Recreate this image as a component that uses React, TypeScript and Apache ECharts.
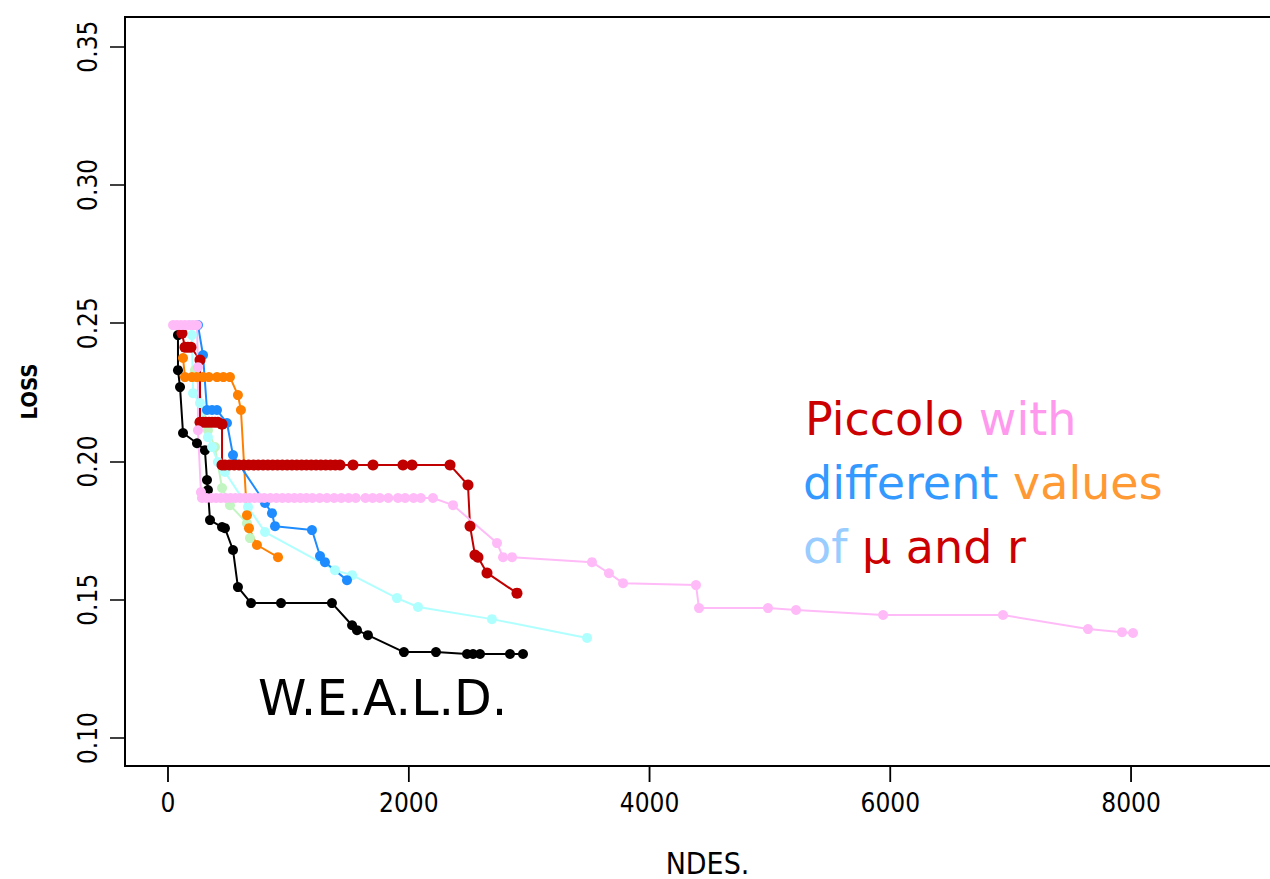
import React, { useEffect, useRef } from "react";
import * as echarts from "echarts";

const xTicks = [0, 2000, 4000, 6000, 8000];
const yTicks = [0.1, 0.15, 0.2, 0.25, 0.3, 0.35];
const xMin = -357;
const xMax = 9320;
const yMin = 0.0899;
const yMax = 0.3607;

// W.E.A.L.D. (black)
const weald = [
  [83, 0.2457], [83, 0.233], [100, 0.2269], [125, 0.2103], [241, 0.2066], [307, 0.2041],
  [324, 0.1933], [332, 0.1897], [349, 0.1788], [449, 0.1763], [473, 0.1759], [540, 0.168],
  [581, 0.1546], [690, 0.1488], [939, 0.1488], [1362, 0.1488], [1529, 0.1408], [1570, 0.139],
  [1661, 0.1372], [1960, 0.1311], [2226, 0.1311], [2484, 0.1304], [2534, 0.1304], [2592, 0.1304],
  [2841, 0.1304], [2949, 0.1304],
];

// Piccolo runs
const piccoloRed = [
  [116, 0.2464], [141, 0.2413], [166, 0.2413], [191, 0.2413], [266, 0.2367], [266, 0.2142],
  [291, 0.2142], [316, 0.2142], [341, 0.2142], [366, 0.2142], [391, 0.2142], [415, 0.2142],
  [449, 0.2135], [449, 0.1987], [473, 0.1987], [510, 0.1987], [550, 0.1987], [590, 0.1987],
  [630, 0.1987], [670, 0.1987], [710, 0.1987], [750, 0.1987], [790, 0.1987], [830, 0.1987],
  [870, 0.1987], [910, 0.1987], [950, 0.1987], [990, 0.1987], [1030, 0.1987], [1070, 0.1987],
  [1110, 0.1987], [1150, 0.1987], [1190, 0.1987], [1230, 0.1987], [1270, 0.1987], [1310, 0.1987],
  [1350, 0.1987], [1390, 0.1987], [1429, 0.1987], [1537, 0.1987], [1703, 0.1987], [1952, 0.1987],
  [2027, 0.1987], [2343, 0.1987], [2492, 0.1915], [2509, 0.1766], [2550, 0.1662], [2575, 0.1654],
  [2650, 0.1597], [2899, 0.1524],
];

const piccoloBlue = [
  [249, 0.2493], [291, 0.2385], [324, 0.2186], [366, 0.2186], [407, 0.2186], [490, 0.2139],
  [540, 0.2023], [806, 0.185], [864, 0.1813], [889, 0.1766], [1196, 0.1752], [1263, 0.1658],
  [1304, 0.1636], [1487, 0.1571],
];

const piccoloOrange = [
  [125, 0.2374], [141, 0.2305], [199, 0.2305], [240, 0.2305], [291, 0.2305], [340, 0.2305],
  [407, 0.2305], [460, 0.2305], [515, 0.2305], [581, 0.224], [606, 0.2186], [656, 0.1806],
  [673, 0.1759], [739, 0.1698], [914, 0.1654],
];

const piccoloPink = [
  [42, 0.2493], [75, 0.2493], [108, 0.2493], [141, 0.2493], [174, 0.2493], [208, 0.2493],
  [241, 0.2493], [249, 0.2341], [249, 0.2113], [274, 0.1889], [282, 0.1868], [320, 0.1868],
  [360, 0.1868], [400, 0.1868], [440, 0.1868], [480, 0.1868], [520, 0.1868], [560, 0.1868],
  [600, 0.1868], [640, 0.1868], [680, 0.1868], [720, 0.1868], [760, 0.1868], [800, 0.1868],
  [850, 0.1868], [900, 0.1868], [950, 0.1868], [1000, 0.1868], [1050, 0.1868], [1100, 0.1868],
  [1150, 0.1868], [1200, 0.1868], [1260, 0.1868], [1320, 0.1868], [1380, 0.1868], [1440, 0.1868],
  [1500, 0.1868], [1560, 0.1868], [1640, 0.1868], [1700, 0.1868], [1760, 0.1868], [1830, 0.1868],
  [1910, 0.1868], [1970, 0.1868], [2040, 0.1868], [2100, 0.1868], [2201, 0.1868], [2368, 0.1842],
  [2733, 0.1705], [2783, 0.1654], [2858, 0.1654], [3522, 0.1636], [3663, 0.1596], [3780, 0.156],
  [4386, 0.1553], [4411, 0.147], [4984, 0.147], [5217, 0.1463], [5940, 0.1445], [6936, 0.1445],
  [7642, 0.1394], [7925, 0.1383], [8016, 0.138],
];

const piccoloCyan = [
  [183, 0.2493], [199, 0.2457], [208, 0.2247], [266, 0.2211], [332, 0.2088], [366, 0.2052],
  [415, 0.1998], [473, 0.1962], [665, 0.1835], [806, 0.1745], [1387, 0.1607], [1529, 0.1589],
  [1902, 0.1506], [2077, 0.1474], [2691, 0.143], [3481, 0.1362],
];

const piccoloGreen = [
  [224, 0.233], [332, 0.2113], [390, 0.2052], [449, 0.1904], [515, 0.1842], [656, 0.1777],
  [681, 0.1723],
];

const tickFont = "'Liberation Sans Narrow', 'DejaVu Sans Condensed', 'Liberation Sans', sans-serif";
const textFont = "'DejaVu Sans', Verdana, sans-serif";

function mk(name: string, data: number[][], color: string, size = 10, width = 2) {
  return {
    name,
    type: "line",
    data,
    symbol: "circle",
    symbolSize: size,
    showSymbol: true,
    lineStyle: { color, width },
    itemStyle: { color },
    z: 2,
  };
}

export default function App() {
  const ref = useRef<HTMLDivElement>(null);
  useEffect(() => {
    if (!ref.current) return;
    const chart = echarts.init(ref.current, null, { renderer: "svg" });
    chart.setOption({
      animation: false,
      backgroundColor: "#ffffff",
      grid: {
        left: 125,
        top: 17,
        width: 1165,
        height: 749,
        outerBoundsMode: "none",
        show: true,
        borderColor: "#000",
        borderWidth: 2,
        backgroundColor: "transparent",
      },
      xAxis: {
        type: "value",
        position: "bottom",
        min: xMin,
        max: xMax,
        name: "NDES.",
        nameLocation: "middle",
        nameGap: 82,
        nameTextStyle: { fontFamily: tickFont, fontSize: 30, color: "#000" },
        axisLine: { show: true, onZero: false, lineStyle: { color: "#000", width: 2 } },
        splitLine: { show: false },
        axisTick: { show: false },
        axisLabel: {
          fontFamily: tickFont,
          fontSize: 26,
          color: "#000",
          margin: 24,
          customValues: xTicks,
          formatter: (v: number) => String(v),
        },
      },
      yAxis: {
        type: "value",
        position: "left",
        min: yMin,
        max: yMax,
        name: "LOSS",
        nameLocation: "middle",
        nameGap: 85,
        nameRotate: 90,
        nameTextStyle: { fontFamily: tickFont, fontSize: 22, color: "#000", fontWeight: "bold" },
        axisLine: { show: true, onZero: false, lineStyle: { color: "#000", width: 2 } },
        splitLine: { show: false },
        axisTick: { show: true, inside: false, length: 15, lineStyle: { color: "#000", width: 1.5 }, customValues: yTicks },
        axisLabel: {
          fontFamily: tickFont,
          fontSize: 26,
          color: "#000",
          rotate: 90,
          margin: 24,
          customValues: yTicks,
          formatter: (v: number) => v.toFixed(2),
        },
      },
      series: [
        mk("W.E.A.L.D.", weald, "#000000", 10, 2),
        mk("green", piccoloGreen, "#c2f5c2", 10, 2),
        mk("cyan", piccoloCyan, "#b0ffff", 10, 2),
        mk("orange", piccoloOrange, "#ff8000", 10, 2),
        mk("blue", piccoloBlue, "#1e8cff", 10, 2),
        mk("red", piccoloRed, "#c00000", 11, 2),
        mk("pink", piccoloPink, "#ffbbf7", 10, 2),
        {
          name: "x ticks",
          type: "scatter",
          clip: false,
          silent: true,
          data: xTicks.map((v) => [v, yMin]),
          symbol: "rect",
          symbolSize: [1.6, 16],
          symbolOffset: [0, 8],
          itemStyle: { color: "#000" },
          z: 10,
        },
      ],
      graphic: [
        {
          id: "t1",
          type: "text",
          left: 805,
          top: 396,
          style: {
            text: "{a|Piccolo} {b|with}",
            font: `46px ${textFont}`,
            rich: {
              a: { fill: "#cc0000", fontSize: 46, fontFamily: textFont },
              b: { fill: "#ff99ee", fontSize: 46, fontFamily: textFont },
            },
          },
        },
        {
          id: "t2",
          type: "text",
          left: 803,
          top: 460,
          style: {
            text: "{a|different} {b|values}",
            font: `46px ${textFont}`,
            rich: {
              a: { fill: "#3399ff", fontSize: 46, fontFamily: textFont },
              b: { fill: "#ff9933", fontSize: 46, fontFamily: textFont },
            },
          },
        },
        {
          id: "t3",
          type: "text",
          left: 803,
          top: 524,
          style: {
            text: "{a|of} {b|μ and r}",
            font: `46px ${textFont}`,
            rich: {
              a: { fill: "#99ccff", fontSize: 46, fontFamily: textFont },
              b: { fill: "#cc0000", fontSize: 46, fontFamily: textFont },
            },
          },
        },
        {
          id: "t4",
          type: "text",
          left: 258,
          top: 674,
          style: {
            text: "W.E.A.L.D.",
            fill: "#000",
            font: `49px ${textFont}`,
          },
        },
      ],
    });
    // backup tick marks placed through the grid's scales
    try {
      const tickEls = xTicks.map((v, i) => {
        const p = chart.convertToPixel("grid", [v, yMin]) as unknown as number[];
        return {
          id: "xt" + i,
          type: "line",
          z: 100,
          shape: { x1: p[0], y1: p[1], x2: p[0], y2: p[1] + 16 },
          style: { stroke: "#000", lineWidth: 1.5 },
        };
      });
      chart.setOption({ graphic: tickEls });
    } catch (e) {
      // ignore
    }
    return () => chart.dispose();
  }, []);
  return (
    <div
      ref={ref}
      style={{ position: "fixed", left: 0, top: 0, width: 1300, height: 879 }}
    />
  );
}
